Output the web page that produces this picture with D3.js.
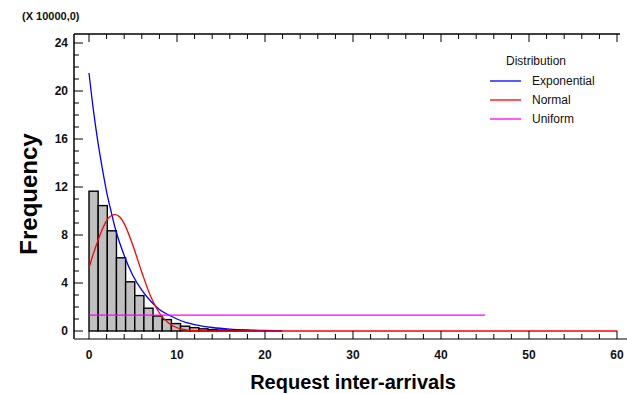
<!DOCTYPE html>
<html>
<head>
<meta charset="utf-8">
<script src="https://cdn.jsdelivr.net/npm/d3@7"></script>
<style>
  body { margin: 0; background: #fff; }
  svg { display: block; font-family: "Liberation Sans", Arial, sans-serif; }
</style>
</head>
<body>
<svg id="chart" width="627" height="394"></svg>
<script>
// histogram bins (counts in units of 10000)
const binWidth = 1.04;
const binCounts = [11.65, 10.45, 8.35, 6.1, 4.1, 2.95, 1.9, 1.25, 0.95, 0.62, 0.4, 0.28, 0.18, 0.12, 0.08, 0.06, 0.04, 0.03, 0.02, 0.02, 0.01];

// fitted curves
const expX = [0, 0.5, 1, 1.5, 2, 2.5, 3, 4, 5, 6, 7, 8, 9, 10, 11, 12, 13, 14, 16, 18, 20, 22];
const expY = [21.5, 18.4, 15.8, 13.6, 11.6, 10.0, 8.5, 6.3, 4.6, 3.4, 2.5, 1.8, 1.35, 1.0, 0.72, 0.53, 0.39, 0.29, 0.16, 0.09, 0.05, 0.03];
const normX = [0, 0.5, 1, 1.5, 2, 2.5, 3, 3.5, 4, 5, 6, 7, 8, 9, 10, 11, 12, 14, 60];
const normY = [5.25, 6.45, 7.5, 8.45, 9.2, 9.6, 9.7, 9.5, 8.95, 7.1, 4.9, 2.9, 1.5, 0.69, 0.27, 0.09, 0.03, 0, 0];
const unifX = [0, 45];
const unifY = [1.33, 1.33];

const seriesNames = ["Exponential", "Normal", "Uniform"];
const seriesColors = ["#0000ff", "#ff0000", "#ff00ff"];

const xTicks = [0, 10, 20, 30, 40, 50, 60];
const yTicks = [0, 4, 8, 12, 16, 20, 24];

const svg = d3.select("#chart");
const x = d3.scaleLinear().domain([0, 60]).range([89, 617]);
const y = d3.scaleLinear().domain([0, 24]).range([331, 43]);

const axisLeft = 74, axisBottom = 339, axisTop = 34;

// histogram bars
svg.append("g").selectAll("rect")
    .data(binCounts)
    .join("rect")
    .attr("x", (d, i) => x(i * binWidth))
    .attr("width", x(binWidth) - x(0))
    .attr("y", d => y(d))
    .attr("height", d => y(0) - y(d))
    .attr("fill", "#c0c0c0")
    .attr("stroke", "#000")
    .attr("stroke-width", 1.4);

// curves
const line = d3.line().x(d => x(d[0])).y(d => y(d[1])).curve(d3.curveMonotoneX);
const curves = [
    d3.zip(expX, expY),
    d3.zip(normX, normY),
    d3.zip(unifX, unifY)
];
svg.append("g").selectAll("path")
    .data(curves)
    .join("path")
    .attr("d", line)
    .attr("fill", "none")
    .attr("stroke", (d, i) => seriesColors[i])
    .attr("stroke-width", 1.3);

// frame lines
svg.append("line").attr("x1", axisLeft).attr("x2", axisLeft).attr("y1", axisTop).attr("y2", axisBottom)
    .attr("stroke", "#000").attr("stroke-width", 1.5);
svg.append("line").attr("x1", axisLeft).attr("x2", 620).attr("y1", axisTop).attr("y2", axisTop)
    .attr("stroke", "#000").attr("stroke-width", 1.5);
svg.append("line").attr("x1", axisLeft).attr("x2", 627).attr("y1", axisBottom).attr("y2", axisBottom)
    .attr("stroke", "#555").attr("stroke-width", 1.5);

// x ticks, bottom (up) and top (down)
const xMinor = d3.range(0, 61, 2);
svg.append("g").selectAll("line")
    .data(xMinor)
    .join("line")
    .attr("x1", d => x(d)).attr("x2", d => x(d))
    .attr("y1", axisBottom)
    .attr("y2", d => axisBottom - (d % 10 === 0 ? 8 : 5))
    .attr("stroke", "#000");
svg.append("g").selectAll("line")
    .data(xMinor)
    .join("line")
    .attr("x1", d => x(d)).attr("x2", d => x(d))
    .attr("y1", axisTop)
    .attr("y2", d => axisTop + (d % 10 === 0 ? 8 : 5))
    .attr("stroke", "#000");

// y ticks
const yMinor = d3.range(0, 25, 1);
svg.append("g").selectAll("line")
    .data(yMinor)
    .join("line")
    .attr("y1", d => y(d)).attr("y2", d => y(d))
    .attr("x1", axisLeft)
    .attr("x2", d => axisLeft + (d % 4 === 0 ? 9 : 5))
    .attr("stroke", "#000");

// tick labels
svg.append("g").selectAll("text")
    .data(xTicks)
    .join("text")
    .attr("x", d => x(d))
    .attr("y", 359)
    .attr("text-anchor", "middle")
    .attr("font-size", 12)
    .attr("font-weight", "bold")
    .attr("fill", "#111")
    .text(d => d);
svg.append("g").selectAll("text")
    .data(yTicks)
    .join("text")
    .attr("x", 68)
    .attr("y", d => y(d) + 4)
    .attr("text-anchor", "end")
    .attr("font-size", 12)
    .attr("font-weight", "bold")
    .attr("fill", "#111")
    .text(d => d);

// scale note and axis titles
svg.append("text").attr("x", 22).attr("y", 20)
    .attr("font-size", 11).attr("font-weight", "bold").attr("fill", "#111")
    .text("(X 10000,0)");
svg.append("text").attr("x", 353).attr("y", 389)
    .attr("text-anchor", "middle").attr("font-size", 20).attr("font-weight", "bold")
    .text("Request inter-arrivals");
svg.append("text").attr("transform", "translate(37,194) rotate(-90)")
    .attr("text-anchor", "middle").attr("font-size", 24).attr("font-weight", "bold")
    .text("Frequency");

// legend
const legend = svg.append("g");
legend.append("text").attr("x", 506).attr("y", 65).attr("font-size", 12).attr("fill", "#111")
    .text("Distribution");
const items = legend.selectAll("g.item")
    .data(seriesNames)
    .join("g")
    .attr("class", "item")
    .attr("transform", (d, i) => `translate(0,${81 + i * 19})`);
items.append("line").attr("x1", 490).attr("x2", 521).attr("y1", 0).attr("y2", 0)
    .attr("stroke", (d, i) => seriesColors[i]).attr("stroke-width", 1.3);
items.append("text").attr("x", 532).attr("y", 4).attr("font-size", 12).attr("fill", "#111")
    .text(d => d);
</script>
</body>
</html>
